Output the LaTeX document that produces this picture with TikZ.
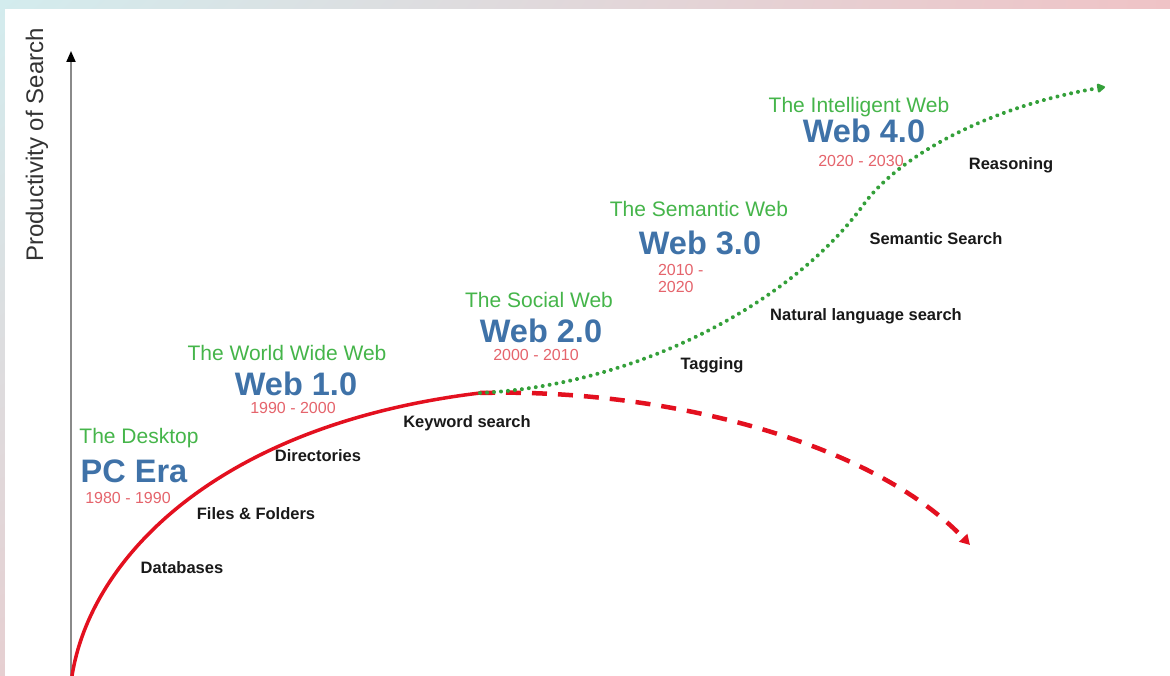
\documentclass[tikz,border=0pt]{standalone}
\usepackage{fontspec}
\setmainfont{Liberation Sans}
\usetikzlibrary{arrows.meta,shadings}
\definecolor{bgcyan}{HTML}{D3ECEE}
\definecolor{bgpink}{HTML}{EFC3C6}
\definecolor{bgmix}{HTML}{E6CFD1}
\definecolor{tgreen}{HTML}{45B54A}
\definecolor{tblue}{HTML}{3F72A8}
\definecolor{tyear}{HTML}{E5646C}
\definecolor{curvered}{HTML}{E3101F}
\definecolor{dotgreen}{HTML}{34A03A}
\definecolor{axisgray}{HTML}{8A8A8A}
\tikzset{
  lbl/.style={anchor=base, inner sep=0pt, outer sep=0pt},
  era/.style={lbl, text=tgreen, font=\fontsize{21}{21}\selectfont},
  webname/.style={lbl, text=tblue, font=\bfseries\fontsize{32.5}{32.5}\selectfont},
  years/.style={lbl, text=tyear, font=\fontsize{16}{17}\selectfont},
  tech/.style={lbl, text=black!90, font=\bfseries\fontsize{16.5}{16.5}\selectfont},
  solidred/.style={draw=curvered, line width=3.5pt},
  dashedred/.style={draw=curvered, line width=4.5pt, dash pattern=on 15pt off 11pt, -{Triangle[length=10pt,width=11pt]}},
  dottedgreen/.style={draw=dotgreen, line width=4pt, line cap=round, dash pattern=on 0.01pt off 7pt, -{Triangle[length=9pt,width=10pt,round]}},
  axisline/.style={draw=axisgray, line width=2pt, -{Triangle[length=11pt,width=9pt,color=black]}}
}
\begin{document}
\begin{tikzpicture}[x=1pt,y=-1pt]
\useasboundingbox (0,0) rectangle (1170,676);
% background frame
\shade[upper left=bgcyan, upper right=bgpink, lower left=bgmix, lower right=bgpink] (0,0) rectangle (1170,676);
\fill[white] (5,9) rectangle (1170,676);

% axis
\coordinate (axbot) at (71,676);
\coordinate (axtop) at (71,51);
\draw[axisline] (axbot) -- (axtop);
\node[lbl, rotate=90, text=black!80, font=\fontsize{24}{24}\selectfont] (ytitle) at (43,145) {Productivity of Search};

% curves
\coordinate (start) at (72,676);
\coordinate (knee) at (480,393);
\coordinate (mid) at (864,204);
\coordinate (greenend) at (1105,87);
\coordinate (redend) at (970,545);
\draw[solidred] (start) .. controls (90,560) and (215,425) .. (knee);
\draw[dashedred] (knee) .. controls (660,388) and (870,440) .. (redend);
\draw[dottedgreen] (knee) .. controls (640,385) and (794,301) .. (mid)
   .. controls (899,156) and (990,106) .. (greenend);

% PC era
\node[era] (desk) at (139,443) {The Desktop};
\node[webname] (pcera) at (134,482) {PC Era};
\node[years] (y1980) at (128,503) {1980 - 1990};
\node[tech] (databases) at (182,573) {Databases};
\node[tech] (files) at (256,519) {Files \& Folders};
\node[tech] (directories) at (318,461) {Directories};

% Web 1.0
\node[era] (www) at (287,360) {The World Wide Web};
\node[webname] (web1) at (296,395) {Web 1.0};
\node[years] (y1990) at (293,413) {1990 - 2000};
\node[tech] (keyword) at (467,427) {Keyword search};

% Web 2.0
\node[era] (social) at (539,308) {The Social Web};
\node[webname] (web2) at (541,342) {Web 2.0};
\node[years] (y2000) at (536,360) {2000 - 2010};
\node[tech] (tagging) at (712,370) {Tagging};

% Web 3.0
\node[era] (semantic) at (699,217) {The Semantic Web};
\node[webname] (web3) at (700,255) {Web 3.0};
\node[years, anchor=base west, align=left] (y2010) at (658,293) {2010 -\\2020};
\node[tech] (natural) at (866,321) {Natural language search};
\node[tech] (semsearch) at (936,245) {Semantic Search};

% Web 4.0
\node[era] (intelligent) at (859,113) {The Intelligent Web};
\node[webname] (web4) at (864,143) {Web 4.0};
\node[years] (y2020) at (861,167) {2020 - 2030};
\node[tech] (reasoning) at (1011,170) {Reasoning};
\end{tikzpicture}
\end{document}
